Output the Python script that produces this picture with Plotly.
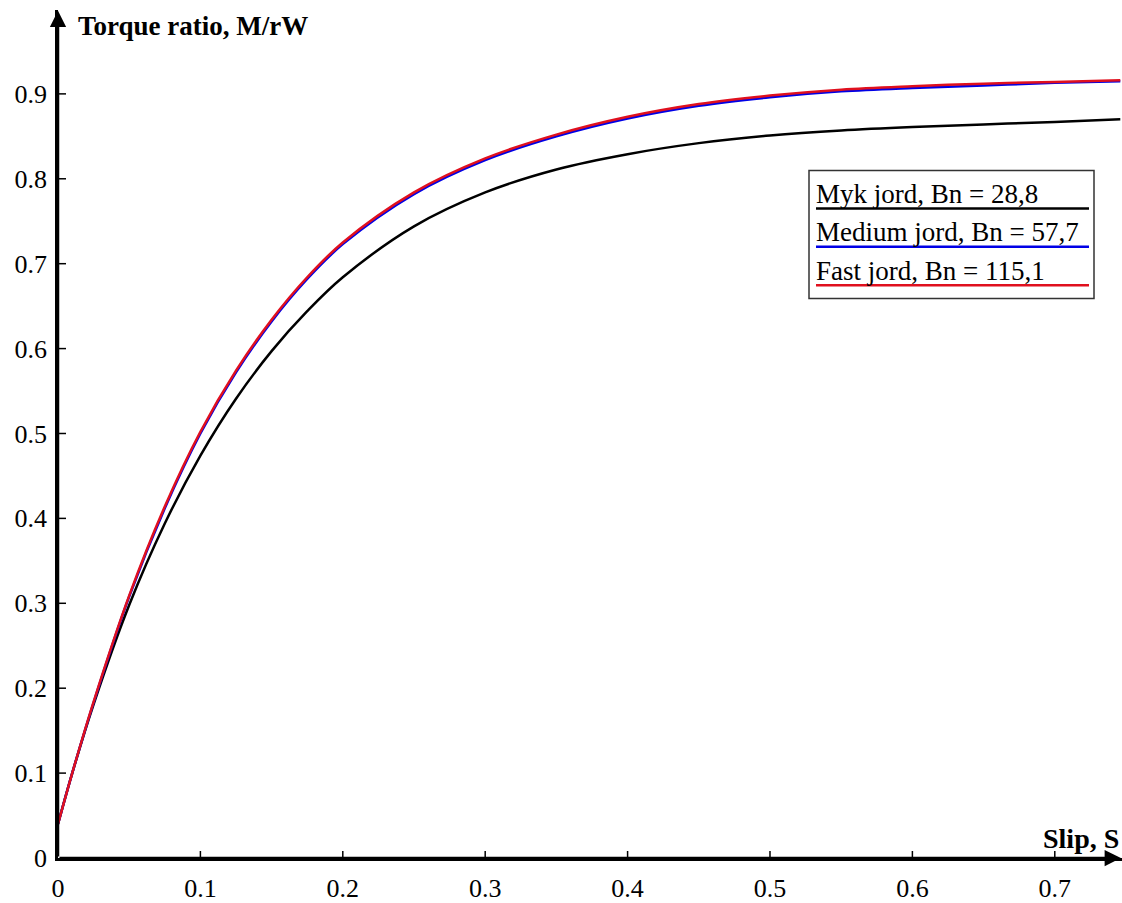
import plotly.graph_objects as go

# ---- data ----
slip = [0, 0.01, 0.025, 0.05, 0.075, 0.1, 0.125, 0.15, 0.175, 0.2, 0.25, 0.3,
        0.35, 0.4, 0.45, 0.5, 0.55, 0.6, 0.65, 0.7, 0.746]
torque_soft = [0.040, 0.100, 0.181, 0.298, 0.394, 0.474, 0.541, 0.597, 0.644, 0.684,
               0.744, 0.784, 0.811, 0.829, 0.842, 0.851, 0.857, 0.861, 0.864, 0.867, 0.870]
torque_medium = [0.040, 0.100, 0.183, 0.308, 0.412, 0.500, 0.572, 0.632, 0.682, 0.723,
                 0.782, 0.822, 0.850, 0.871, 0.886, 0.896, 0.903, 0.907, 0.910, 0.913, 0.915]
torque_hard = [0.040, 0.100, 0.184, 0.309, 0.414, 0.502, 0.574, 0.634, 0.684, 0.725,
               0.784, 0.824, 0.852, 0.873, 0.888, 0.898, 0.905, 0.909, 0.912, 0.914, 0.916]

series_names = ["Myk jord, Bn = 28,8", "Medium jord, Bn = 57,7", "Fast jord, Bn = 115,1"]
series_colors = ["#000000", "#0000e6", "#e0101e"]

x_ticks = [0, 0.1, 0.2, 0.3, 0.4, 0.5, 0.6, 0.7]
y_ticks = [0, 0.1, 0.2, 0.3, 0.4, 0.5, 0.6, 0.7, 0.8, 0.9]
x_title = "Slip, S"
y_title = "Torque ratio, M/rW"

X_MAX = 0.7472
Y_MAX = 0.9988
FONT = "Liberation Serif, Times New Roman, serif"

fig = go.Figure()
for ys, name, col in zip([torque_soft, torque_medium, torque_hard], series_names, series_colors):
    fig.add_trace(go.Scatter(x=slip, y=ys, mode="lines", name=name,
                             line=dict(color=col, width=2.5, shape="spline", smoothing=1.0)))

W, H = 1122, 903
ML, MR, MT, MB = 58, 0, 10, 32
pw, ph = W - ML - MR, H - MT - MB

def px_x(p):
    return (p - ML) / pw

def px_y(p):
    return (H - MB - p) / ph

shapes = []
# crossing tick marks
for t in x_ticks[1:]:
    shapes.append(dict(type="line", xref="x", yref="y", x0=t, x1=t, ysizemode="pixel",
                       yanchor=0, y0=-5, y1=7, line=dict(color="black", width=1.5)))
for t in y_ticks[1:]:
    shapes.append(dict(type="line", xref="x", yref="y", y0=t, y1=t, xsizemode="pixel",
                       xanchor=0, x0=-10, x1=8, line=dict(color="black", width=1.5)))

# legend box
shapes.append(dict(type="rect", xref="paper", yref="paper",
                   x0=px_x(809), x1=px_x(1094), y0=px_y(303), y1=px_y(173),
                   line=dict(color="#333333", width=1.5), fillcolor="white", layer="above"))

annotations = []
row_lines = [211.5, 250.5, 289.5]
for name, col, yl in zip(series_names, series_colors, row_lines):
    shapes.append(dict(type="line", xref="paper", yref="paper",
                       x0=px_x(816), x1=px_x(1089), y0=px_y(yl), y1=px_y(yl),
                       line=dict(color=col, width=2.5), layer="above"))
    annotations.append(dict(xref="paper", yref="paper", x=px_x(814), y=px_y(yl - 15),
                            xanchor="left", yanchor="middle", showarrow=False,
                            text=name, font=dict(family=FONT, size=27, color="black")))

# axis arrows
annotations.append(dict(x=0, y=Y_MAX - 0.001, ax=0, ay=0, xref="x", yref="y", axref="x", ayref="y",
                        showarrow=True, arrowhead=2, arrowsize=1.3, arrowwidth=2.5,
                        arrowcolor="black", text=""))
annotations.append(dict(x=X_MAX - 0.0008, y=0, ax=0, ay=0, xref="x", yref="y", axref="x", ayref="y",
                        showarrow=True, arrowhead=2, arrowsize=1.3, arrowwidth=2.5,
                        arrowcolor="black", text=""))
# axis titles
annotations.append(dict(xref="paper", yref="paper", x=px_x(76), y=px_y(26),
                        xanchor="left", yanchor="middle", showarrow=False,
                        text="<b>" + y_title + "</b>", font=dict(family=FONT, size=27, color="black")))
annotations.append(dict(xref="paper", yref="paper", x=px_x(1121), y=px_y(851),
                        xanchor="right", yanchor="middle", showarrow=False,
                        text="<b>" + x_title + "</b>", font=dict(family=FONT, size=28, color="black")))

fig.update_layout(
    width=W, height=H,
    margin=dict(l=ML, r=MR, t=MT, b=MB, pad=0),
    paper_bgcolor="white", plot_bgcolor="white",
    showlegend=False,
    font=dict(family=FONT, size=26, color="black"),
    xaxis=dict(range=[0, X_MAX], tickvals=x_ticks, ticktext=[f"{v:g}" for v in x_ticks],
               showgrid=False, zeroline=False, showline=True, linecolor="black", linewidth=2.5,
               ticks="outside", ticklen=5, tickcolor="rgba(0,0,0,0)",
               tickfont=dict(family=FONT, size=26, color="black")),
    yaxis=dict(range=[0, Y_MAX], tickvals=y_ticks, ticktext=[f"{v:g}" for v in y_ticks],
               showgrid=False, zeroline=False, showline=True, linecolor="black", linewidth=2.5,
               ticks="outside", ticklen=3, tickcolor="rgba(0,0,0,0)",
               tickfont=dict(family=FONT, size=26, color="black")),
    shapes=shapes,
    annotations=annotations,
)

fig.write_html("out.html")
